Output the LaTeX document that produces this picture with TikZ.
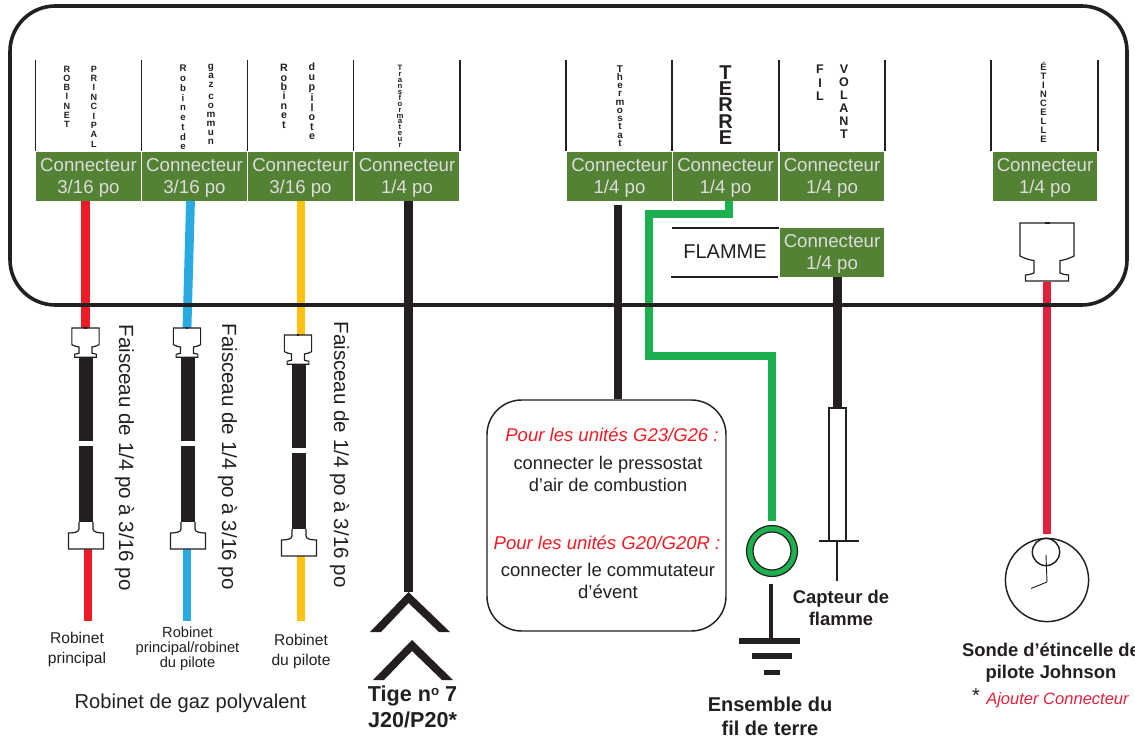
\documentclass[tikz,border=0pt]{standalone}
\usepackage{fontspec}
\setmainfont{Liberation Sans}
\definecolor{ink}{HTML}{231F20}
\definecolor{cgreen}{HTML}{548235}
\definecolor{ctext}{HTML}{DCDCDC}
\definecolor{wred}{HTML}{ED1C24}
\definecolor{wblue}{HTML}{29ABE2}
\definecolor{wyellow}{HTML}{FFC20E}
\definecolor{wgreen}{HTML}{1EB04F}
\definecolor{crimson}{HTML}{E0213B}
\newcommand{\fsz}[2]{\fontsize{#1}{#2}\selectfont}
\tikzset{
  x=0.75pt,y=-0.75pt,
  conn/.style={fill=cgreen,text=ctext,minimum width=78.6pt,minimum height=36.75pt,inner sep=0pt,align=center,text depth=1.5pt,font=\fsz{14}{16.5}},
  stk/.style n args={2}{anchor=north,inner sep=0pt,align=center,text=ink,font=\fsz{#1}{#2}\bfseries},
  txt/.style={inner sep=0pt,align=center,text=ink},
  wire/.style={line width=6.6pt},
  thinwire/.style={line width=6pt},
  hose/.style={line width=10.2pt,ink},
  sep/.style={ink,line width=0.8pt},
  plug/.pic={
    \draw[ink,line width=0.9pt,fill=white] (-27,0) -- (27,0) -- (27,33) .. controls (22,35.5) and (18,37) .. (13,37.5) -- (13,50) .. controls (16,51) and (18,52) .. (21.5,52) -- (21.5,58) -- (-21.5,58) -- (-21.5,52) .. controls (-18,52) and (-16,51) .. (-13,50) -- (-13,37.5) .. controls (-18,37) and (-22,35.5) .. (-27,33) -- cycle;
    \draw[ink,line width=1.6pt] (-2.5,0) -- (2.5,0);
  },
  socket/.pic={
    \draw[ink,line width=0.9pt,fill=white] (-7,0) -- (-7,7) .. controls (-7,10) and (-12,11) .. (-17.5,11) -- (-17.5,27) -- (17.5,27) -- (17.5,11) .. controls (12,11) and (7,10) .. (7,7) -- (7,0);
  },
}
\begin{document}
\begin{tikzpicture}
\clip (0,0) rectangle (1135,738);
% connector boxes
\foreach \nm/\cx/\sz in {c1/88.5/3\slash16,c2/194.5/3\slash16,c3/300.5/3\slash16,c4/407/1\slash4,c5/619.5/1\slash4,c6/725.5/1\slash4,c7/832/1\slash4,c8/1045/1\slash4}
  \node[conn] (\nm) at (\cx,176.5) {Connecteur\\\sz{} po};
\node[conn] (c9) at (832,252.5) {Connecteur\\1/4 po};
% separators
\foreach \sx in {35.5,141.5,247.5,353.5,460,566,672,779,885,991,1098}
  \draw[sep] (\sx,60) -- (\sx,151);
\draw[sep] (672,228) -- (779,228);
\draw[sep] (671,277) -- (778,277);
\node[txt,font=\fsz{15}{18}] (flamme) at (725,252) {FLAMME};
% stacked labels
\node[stk={6.8}{6.97}] (l1a) at (67,65.5) {R\\O\\B\\I\\N\\E\\T};
\node[stk={6.8}{7.05}] (l1b) at (94,65.5) {P\\R\\I\\N\\C\\I\\P\\A\\L};
\node[stk={7.2}{7.3}] (l2a) at (183,65) {R\\o\\b\\i\\n\\e\\t\\d\\e};
\node[stk={7.4}{6.85}] (l2b) at (211,63.5) {g\\a\\z\\[2pt]c\\o\\m\\m\\u\\n};
\node[stk={8}{7.05}] (l3a) at (284,64) {R\\o\\b\\i\\n\\e\\t};
\node[stk={8}{7.2}] (l3b) at (312,63) {d\\u\\p\\i\\l\\o\\t\\e};
\node[stk={5.8}{4.45}] (l4) at (400,65) {T\\r\\a\\n\\s\\f\\o\\r\\m\\a\\t\\e\\u\\r};
\node[stk={7.4}{6.2}] (l5) at (620,65) {T\\h\\e\\r\\m\\o\\s\\t\\a\\t};
\node[stk={15}{12.3}] (l6) at (725.5,65) {T\\E\\R\\R\\E};
\node[stk={9.4}{10}] (l7a) at (820,65) {F\\I\\L};
\node[stk={9.4}{9.75}] (l7b) at (844,65) {V\\O\\L\\A\\N\\T};
\node[stk={7}{6.8}] (l8) at (1043.5,61.5) {É\\T\\I\\N\\C\\E\\L\\L\\E};
% coordinates
\coordinate (p1) at (85.5,328); \coordinate (p2) at (187,328); \coordinate (p3) at (298,335);
\coordinate (h1a) at (86,357); \coordinate (h1b) at (86,441); \coordinate (h1c) at (86,446); \coordinate (s1) at (86,522);
\coordinate (h2a) at (188,357); \coordinate (h2b) at (188,441); \coordinate (h2c) at (188,446); \coordinate (s2) at (188,522);
\coordinate (h3a) at (299,364); \coordinate (h3b) at (299,448); \coordinate (h3c) at (299,453); \coordinate (s3) at (299,529);
\coordinate (e1a) at (87.5,549); \coordinate (e1) at (87.5,621);
\coordinate (e2a) at (187,549); \coordinate (e2) at (187,621);
\coordinate (e3a) at (300.5,556); \coordinate (e3) at (300.5,621);
% upper wires
\draw[wire,wred] (c1.south -| p1) -- (p1);
\draw[wire,wblue] (190.5,201) -- (p2);
\draw[wire,wyellow] (c3.south -| 301,0) -- (301,335);
% hoses
\draw[hose] (h1a) -- (h1b); \draw[hose] (h1c) -- (s1);
\draw[hose] (h2a) -- (h2b); \draw[hose] (h2c) -- (s2);
\draw[hose] (h3a) -- (h3b); \draw[hose] (h3c) -- (s3);
% lower wires
\draw[thinwire,wred] (e1a) -- (e1);
\draw[thinwire,wblue] (e2a) -- (e2);
\draw[thinwire,wyellow] (e3a) -- (e3);
% fixtures
\pic[scale=0.505] at (p1) {plug};
\pic[scale=0.505] at (p2) {plug};
\pic[scale=0.505] at (p3) {plug};
\pic at (s1) {socket};
\pic at (s2) {socket};
\pic at (s3) {socket};
% faisceau labels
\node[txt,rotate=-90,font=\fsz{15.4}{18}] (f1) at (124.5,457.5) {Faisceau de 1/4 po à 3/16 po};
\node[txt,rotate=-90,font=\fsz{15.4}{18}] (f2) at (227.5,456.5) {Faisceau de 1/4 po à 3/16 po};
\node[txt,rotate=-90,font=\fsz{15.4}{18}] (f3) at (339.5,454.5) {Faisceau de 1/4 po à 3/16 po};
% robinet labels
\node[txt,font=\fsz{11.7}{15.4}] (r1) at (77,649.5) {Robinet\\principal};
\node[txt,font=\fsz{11}{11.3}] (r2) at (187.5,649) {Robinet\\principal/robinet\\du pilote};
\node[txt,font=\fsz{11.7}{15}] (r3) at (301,651) {Robinet\\du pilote};
\node[txt,font=\fsz{15.1}{18}] (r4) at (190.5,703) {Robinet de gaz polyvalent};
% transformer wire and chevrons
\coordinate (ch1) at (408.5,592);
\draw[wire,ink] (c4.south -| ch1) -- (ch1);
\fill[ink] (ch1) -- (450,632) -- (439,632) -- (408.5,603) -- (381,632) -- (370,632) -- cycle;
\fill[ink] (412,640) -- (453,680) -- (442,680) -- (412,651) -- (384,680) -- (373,680) -- cycle;
\node[txt,font=\fsz{16.2}{19.5}\bfseries] (tige) at (412.5,707) {Tige n{\fontsize{10}{10}\selectfont\raisebox{4.5pt}{o}} 7\\J20/P20*};
% rounded note
\node[draw=ink,line width=1.1pt,rounded corners=26pt,minimum width=179.25pt,minimum height=173.25pt,inner sep=0pt] (note) at (606.5,515.5) {};
\coordinate (tw) at (618,205);
\draw[wire,ink] (tw) -- (note.north -| tw);
\node[txt,font=\itshape\fsz{13.9}{16},text=wred] (n1) at (612,435) {Pour les unités G23/G26 :};
\node[txt,font=\fsz{13.7}{16.5}] (n2) at (608,474) {connecter le pressostat\\d’air de combustion};
\node[txt,font=\itshape\fsz{13.9}{16},text=wred] (n3) at (607,543) {Pour les unités G20/G20R :};
\node[txt,font=\fsz{13.9}{16.5}] (n4) at (608,581) {connecter le commutateur\\d’évent};
% ground wire
\coordinate (g1) at (729,214); \coordinate (g2) at (649,214); \coordinate (g3) at (649,356); \coordinate (g4) at (772,356); \coordinate (g5) at (772,521);
\draw[wire,wgreen] (c6.south -| g1) -- (g1) -- (g2) -- (g3) -- (g4) -- (g5);
\node[circle,draw=wgreen,line width=5pt,minimum size=33.5pt,inner sep=0pt] (ring) at (772,551) {};
\draw[ink,line width=0.9pt] (ring.center) circle (25.5);
\draw[ink,line width=0.9pt] (ring.center) circle (19);
\coordinate (g6) at (771,638);
\draw[ink,line width=3pt] (771,584) -- (g6);
\fill[ink] (739,638) rectangle (800,643.5);
\fill[ink] (752,653) rectangle (792,659);
\fill[ink] (764,670) rectangle (780,675);
\node[txt,font=\fsz{15}{18}\bfseries] (ens) at (770,716) {Ensemble du\\fil de terre};
% flame sensor
\node[draw=ink,line width=0.9pt,minimum width=12.75pt,minimum height=99.75pt,inner sep=0pt] (fs) at (837.5,474.5) {};
\draw[wire,ink] (c9.south -| fs) -- (fs.north);
\draw[ink,line width=0.9pt] (819,541) -- (859,541);
\coordinate (fe) at (837,581);
\draw[ink,line width=1.6pt] (fs.south -| fe) -- (fe);
\node[txt,font=\fsz{13.8}{16.5}\bfseries] (cap) at (841,608) {Capteur de\\flamme};
% spark
\coordinate (sp) at (1047,223);
\coordinate (spw) at (1047,282);
\coordinate (spe) at (1047,534);
\draw[wire,crimson] (spw) -- (spe);
\pic at (sp) {plug};
\node[circle,draw=ink,line width=1.1pt,minimum size=62.4pt,inner sep=0pt] (big) at (1047,580) {};
\node[circle,draw=ink,line width=1.1pt,minimum size=20.5pt,inner sep=0pt] (small) at (1046,552) {};
\draw[ink,line width=0.7pt] (1046,555) -- (1047,582) -- (1031,588.5);
\node[txt,font=\fsz{13.8}{16.5}\bfseries] (son) at (1051,663) {Sonde d’étincelle de\\pilote Johnson};
\node[txt,font=\fsz{15}{16}] (ast) at (976,696) {*};
\node[txt,anchor=west,font=\itshape\fsz{12.4}{15},text=crimson] (aj) at (986,700) {Ajouter Connecteur};
% outer border
\draw[ink,line width=2.7pt,rounded corners=34pt] (10,6) rectangle (1127,305);
\end{tikzpicture}
\end{document}
